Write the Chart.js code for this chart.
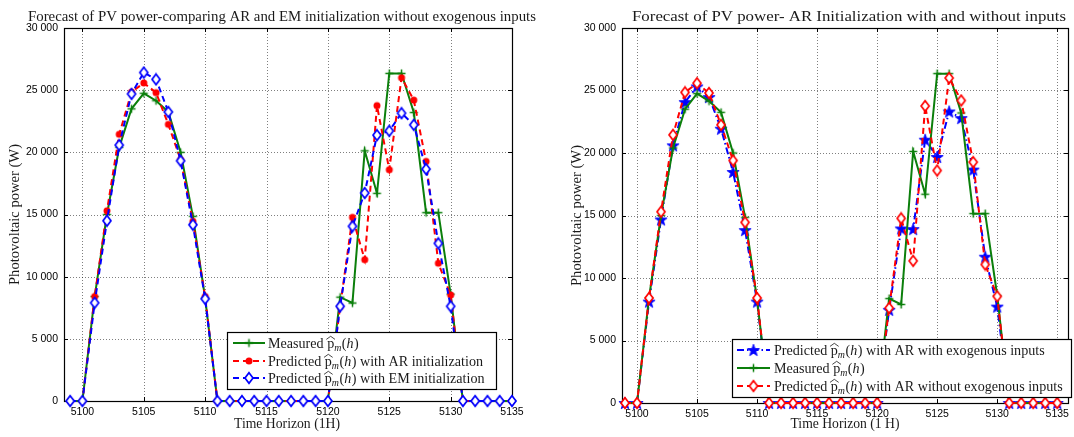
<!DOCTYPE html>
<html><head><meta charset="utf-8">
<script src="https://cdn.jsdelivr.net/npm/chart.js@4.4.0/dist/chart.umd.min.js"></script>
<style>
html,body{margin:0;padding:0;background:#fff;}
#wrap{position:relative;width:1074px;height:437px;overflow:hidden;}
canvas{position:absolute;top:0;}
</style></head><body>
<div id="wrap">
<canvas id="c1" width="537" height="437" style="left:0"></canvas>
<canvas id="c2" width="537" height="437" style="left:537px"></canvas>
</div>
<script>
// ---------------- DATA ----------------
const hours = [5099,5100,5101,5102,5103,5104,5105,5106,5107,5108,5109,5110,5111,5112,5113,5114,5115,5116,5117,5118,5119,5120,5121,5122,5123,5124,5125,5126,5127,5128,5129,5130,5131,5132,5133,5134,5135];
const measured = [0,0,8400,15000,20400,23500,24750,24150,23250,20000,14850,8280, 0,0,0,0,0,0,0,0,0,0, 8350,7880,20120,16700,26350,26350,23200,15150,15150,8600, 0,0,0,0,0];
const predAR = [0,0,8400,15300,21450,24850,25580,24800,22250,19400,14450,8400, 0,0,0,0,0,0,0,0,0,0, 7600,14770,11370,23760,18600,26000,24200,19270,11080,8530, 0,0,0,0,0];
const predEM = [0,0,7900,14500,20580,24700,26420,25870,23250,19320,14180,8220, 0,0,0,0,0,0,0,0,0,0, 7620,14050,16730,21380,21730,23150,22210,18650,12680,7620, 0,0,0,0,0];
const predARexo = [0,0,8110,14680,20610,24070,25320,24470,21940,18480,13830,8110, 0,0,0,0,0,0,0,0,0,0, 7450,13960,13910,21060,19680,23320,22790,18670,11700,7710, 0,0,0,0,0];
const predARnoExo = predAR;
const xTicks = [5100,5105,5110,5115,5120,5125,5130,5135];
const yTicks = [0,5000,10000,15000,20000,25000,30000];
const title1 = "Forecast of PV power-comparing AR and EM initialization without exogenous inputs";
const title2 = "Forecast of PV power- AR Initialization with and without inputs";
const xTitle1 = "Time Horizon (1H)";
const xTitle2 = "Time Horizon (1 H)";
const yTitle = "Photovoltaic power (W)";
const legend1 = [["Measured ",""],["Predicted "," with AR initialization"],["Predicted "," with EM initialization"]];
const legend2 = [["Predicted "," with AR with exogenous inputs"],["Measured ",""],["Predicted "," with AR without exogenous inputs"]];

// ---------------- STYLE ----------------
const GREEN='#0b7f0b', RED='#ff0000', BLUE='#0000ff';
const FS=14;
const SERIF = (s,it)=> (it?'italic ':'')+s+'px "Liberation Serif", serif';
const SANS = '"Liberation Sans", Arial, sans-serif';

function mk(w,h,draw){const c=document.createElement('canvas');c.width=w;c.height=h;const g=c.getContext('2d');draw(g,w/2,h/2);return c;}
const mPlus = mk(11,11,(g,cx,cy)=>{g.strokeStyle=GREEN;g.lineWidth=1.5;g.beginPath();g.moveTo(cx-4,cy);g.lineTo(cx+4,cy);g.moveTo(cx,cy-4);g.lineTo(cx,cy+4);g.stroke();});
const mCircle = mk(10,10,(g,cx,cy)=>{g.fillStyle=RED;g.beginPath();g.arc(cx,cy,3.5,0,Math.PI*2);g.fill();});
function diamond(col){return mk(12,14,(g,cx,cy)=>{g.fillStyle='#fff';g.strokeStyle=col;g.lineWidth=1.7;g.beginPath();g.moveTo(cx,cy-5.3);g.lineTo(cx+4,cy);g.lineTo(cx,cy+5.3);g.lineTo(cx-4,cy);g.closePath();g.fill();g.stroke();});}
const mDiaB = diamond(BLUE), mDiaR = diamond(RED);
const mStar = mk(16,16,(g,cx,cy)=>{g.fillStyle=BLUE;g.strokeStyle=BLUE;g.lineWidth=0.8;g.beginPath();for(let i=0;i<10;i++){const r=i%2?2.6:6.4;const a=-Math.PI/2+i*Math.PI/5;const px=cx+r*Math.cos(a),py=cy+r*Math.sin(a)+0.6;i?g.lineTo(px,py):g.moveTo(px,py);}g.closePath();g.fill();g.stroke();});

const pts = vals => hours.map((h,i)=>({x:h,y:vals[i]}));
const DASH=[6,4], DASHDOT=[7,3,1.5,3];

function ds(label, vals, color, dash, marker, order){
  return {label, data:pts(vals), borderColor:color, backgroundColor:color, borderWidth:2, borderDash:dash,
    pointStyle:marker, pointRadius:4, tension:0, order, clip:10, fill:false};
}

function richLabel(ctx, x, y, pre, post, sx, measureOnly){
  ctx.save(); ctx.translate(x,y); ctx.scale(sx,1);
  ctx.fillStyle='#1a1a1a'; ctx.strokeStyle='#1a1a1a';
  ctx.textAlign='left'; ctx.textBaseline='alphabetic';
  let cx=0;
  const put=(t,font,dy)=>{ctx.font=font; if(!measureOnly) ctx.fillText(t,cx,dy||0); const w=ctx.measureText(t).width; cx+=w; return w;};
  put(pre, SERIF(FS));
  const px=cx; const pw=put('p', SERIF(FS));
  if(!measureOnly){ctx.lineWidth=0.8;ctx.beginPath();ctx.moveTo(px-0.8,-FS*0.58);ctx.lineTo(px+pw/2,-FS*0.80);ctx.lineTo(px+pw+0.8,-FS*0.58);ctx.stroke();}
  put('m', SERIF(FS*0.7,true), FS*0.22);
  cx+=0.5;
  put('(', SERIF(FS)); put('h', SERIF(FS,true)); cx+=0.5; put(')', SERIF(FS));
  put(post, SERIF(FS));
  ctx.restore();
  return cx*sx;
}
let SX=1;
(function(){const c=document.createElement('canvas').getContext('2d'); const w=richLabel(c,0,0,"Predicted "," with AR initialization",1,true); SX=215/w;})();

// draw text centred at x, horizontally scaled to a target width
function textFit(ctx, t, x, y, font, width){
  ctx.save(); ctx.font=font; ctx.fillStyle='#1a1a1a'; ctx.textBaseline='alphabetic';
  const nat=ctx.measureText(t).width; const s=width/nat;
  ctx.translate(x-width/2,y); ctx.scale(s,1); ctx.textAlign='left'; ctx.fillText(t,0,0); ctx.restore();
}

function makeChart(canvas, o){
  const deco = {
    id:'deco'+canvas.id,
    beforeDatasetsDraw(chart){
      const {ctx, chartArea:a, scales:{x,y}} = chart;
      ctx.save();
      ctx.strokeStyle='rgba(0,0,0,0.5)'; ctx.lineWidth=1; ctx.setLineDash([1,2]);
      ctx.beginPath();
      xTicks.forEach(v=>{const p=Math.round(x.getPixelForValue(v))+0.5; if(p>a.left+1&&p<a.right-1){ctx.moveTo(p,a.top);ctx.lineTo(p,a.bottom);}});
      yTicks.forEach(v=>{const p=Math.round(y.getPixelForValue(v))+0.5; if(p>a.top+1&&p<a.bottom-1){ctx.moveTo(a.left,p);ctx.lineTo(a.right,p);}});
      ctx.stroke(); ctx.setLineDash([]);
      ctx.strokeStyle='#000'; ctx.lineWidth=1.2;
      ctx.strokeRect(Math.round(a.left)+0.5, Math.round(a.top)+0.5, Math.round(a.right-a.left), Math.round(a.bottom-a.top));
      ctx.lineWidth=1; ctx.beginPath();
      xTicks.forEach(v=>{const p=Math.round(x.getPixelForValue(v))+0.5; ctx.moveTo(p,a.bottom);ctx.lineTo(p,a.bottom-4);ctx.moveTo(p,a.top);ctx.lineTo(p,a.top+4);});
      yTicks.forEach(v=>{const p=Math.round(y.getPixelForValue(v))+0.5; ctx.moveTo(a.left,p);ctx.lineTo(a.left+4,p);ctx.moveTo(a.right,p);ctx.lineTo(a.right-4,p);});
      ctx.stroke();
      ctx.restore();
    },
    afterDraw(chart){
      const {ctx, chartArea:a} = chart;
      textFit(ctx, o.title, o.titleX, 21, SERIF(FS), o.titleW);
      textFit(ctx, o.xTitle, o.xTitleX, 428, SERIF(FS), o.xTitleW);
      ctx.save(); ctx.translate(o.yTitleX, (a.top+a.bottom)/2); ctx.rotate(-Math.PI/2);
      textFit(ctx, yTitle, 0, 4, SERIF(FS), 141); ctx.restore();
      const L=o.legend;
      ctx.save();
      ctx.fillStyle='#fff'; ctx.fillRect(L.x,L.y,L.w,L.h);
      ctx.strokeStyle='#000'; ctx.lineWidth=1.2; ctx.strokeRect(L.x+0.5,L.y+0.5,L.w,L.h);
      ctx.restore();
      L.rows.forEach((r,i)=>{
        const dset = chart.data.datasets[r.ds];
        const yc = L.rowY[i];
        ctx.save(); ctx.strokeStyle=dset.borderColor; ctx.lineWidth=2; ctx.setLineDash(dset.borderDash||[]);
        ctx.beginPath(); ctx.moveTo(L.lx0,yc); ctx.lineTo(L.lx1,yc); ctx.stroke(); ctx.setLineDash([]);
        const m=dset.pointStyle; ctx.drawImage(m,(L.lx0+L.lx1)/2-m.width/2, yc-m.height/2);
        ctx.restore();
        richLabel(ctx, L.tx, yc+4.5, r.text[0], r.text[1], SX);
      });
    }
  };
  return new Chart(canvas, {
    type:'line',
    data:{datasets:o.datasets},
    options:{
      responsive:false, animation:false, devicePixelRatio:1,
      layout:{autoPadding:false, padding:{left:0, right:o.padRight, top:28, bottom:0}},
      plugins:{legend:{display:false}, tooltip:{enabled:false}, title:{display:false}},
      scales:{
        x:{type:'linear', min:o.xMin, max:o.xMax,
          grid:{display:false, drawTicks:false}, border:{display:false},
          afterBuildTicks:s=>{s.ticks=xTicks.map(v=>({value:v}));},
          afterFit:s=>{s.height=o.xAxisH;},
          ticks:{padding:5, color:'#000', font:{family:SANS,size:10.5}, maxRotation:0, autoSkip:false, callback:v=>String(v)}},
        y:{type:'linear', min:0, max:30000,
          grid:{display:false, drawTicks:false}, border:{display:false},
          afterBuildTicks:s=>{s.ticks=yTicks.map(v=>({value:v}));},
          afterFit:s=>{s.width=o.yAxisW;},
          ticks:{padding:6, color:'#000', font:{family:SANS,size:10.5}, autoSkip:false,
            callback:v=> v>=1000 ? Math.floor(v/1000)+' '+String(v%1000).padStart(3,'0') : String(v)}}
      }
    },
    plugins:[deco]
  });
}

makeChart(document.getElementById('c1'), {
  datasets:[
    ds('Measured', measured, GREEN, [], mPlus, 2),
    ds('Predicted AR', predAR, RED, DASH, mCircle, 1),
    ds('Predicted EM', predEM, BLUE, DASH, mDiaB, 0)
  ],
  xMin:5098.5, xMax:5135, padRight:25, xAxisH:36, yAxisW:64,
  title:title1, titleX:282, titleW:508, xTitle:xTitle1, xTitleX:287, xTitleW:106, yTitleX:15,
  legend:{x:227,y:332,w:269,h:57, lx0:233, lx1:265, tx:268, rowY:[343,361,378],
    rows:[{ds:0,text:legend1[0]},{ds:1,text:legend1[1]},{ds:2,text:legend1[2]}]}
});

makeChart(document.getElementById('c2'), {
  datasets:[
    ds('Predicted AR exo', predARexo, BLUE, DASHDOT, mStar, 2),
    ds('Measured', measured, GREEN, [], mPlus, 1),
    ds('Predicted AR no exo', predARnoExo, RED, DASH, mDiaR, 0)
  ],
  xMin:5098.75, xMax:5135.9, padRight:3, xAxisH:34, yAxisW:85,
  title:title2, titleX:312, titleW:434, xTitle:xTitle2, xTitleX:308, xTitleW:109, yTitleX:40,
  legend:{x:195,y:339,w:339,h:58, lx0:200, lx1:233, tx:237, rowY:[350,368,386],
    rows:[{ds:0,text:legend2[0]},{ds:1,text:legend2[1]},{ds:2,text:legend2[2]}]}
});
</script>
</body></html>
